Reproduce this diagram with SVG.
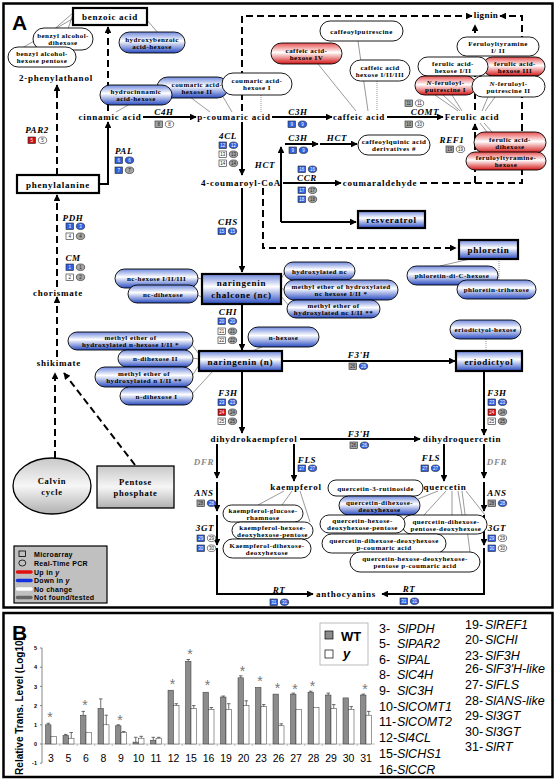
<svg xmlns="http://www.w3.org/2000/svg" width="556" height="781" viewBox="0 0 556 781">
<defs>
<linearGradient id="gb" x1="0" y1="0" x2="0" y2="1"><stop offset="0" stop-color="#6f88dc"/><stop offset="0.42" stop-color="#ffffff"/><stop offset="1" stop-color="#2a4cc2"/></linearGradient>
<linearGradient id="gr" x1="0" y1="0" x2="0" y2="1"><stop offset="0" stop-color="#e85050"/><stop offset="0.45" stop-color="#ffffff"/><stop offset="1" stop-color="#d41515"/></linearGradient>
<linearGradient id="gg" x1="0" y1="0" x2="0" y2="1"><stop offset="0" stop-color="#c8c8c8"/><stop offset="0.5" stop-color="#f6f6f6"/><stop offset="1" stop-color="#b0b0b0"/></linearGradient>
<marker id="ah" viewBox="0 0 10 10" refX="9" refY="5" markerWidth="3.6" markerHeight="3.4" orient="auto"><path d="M0,0L10,5L0,10z" fill="#000"/></marker>
</defs>
<style>
text{font-family:"Liberation Serif","Times New Roman",serif;font-weight:bold}
.m{font-size:9px;letter-spacing:0.75px;text-anchor:middle}
.p{font-size:7px;letter-spacing:0.45px;text-anchor:middle}
.e{font-size:9px;font-style:italic;letter-spacing:0.6px;text-anchor:middle}
.dfr{fill:#8a8a8a}
.s{fill:none;stroke:#000;stroke-width:2;marker-end:url(#ah)}
.d{fill:none;stroke:#000;stroke-width:2;stroke-dasharray:7 4;marker-end:url(#ah)}
.t{fill:none;stroke:#555;stroke-width:0.6}
.td{fill:none;stroke:#555;stroke-width:0.6;stroke-dasharray:1 1}
.pw{fill:#fff;stroke:#000;stroke-width:0.9}
.pb{fill:url(#gb);stroke:#000;stroke-width:0.9}
.pr{fill:url(#gr);stroke:#000;stroke-width:0.9}
.bw{fill:#fff;stroke:#000;stroke-width:2.2}
.bb{fill:url(#gb);stroke:#000;stroke-width:2.2}
.gm rect,.gm ellipse{stroke:#222;stroke-width:0.6}
.B{fill:#2f60e0}.R{fill:#d01010}.G{fill:#a5a5a5}.W{fill:#fff}
.n{font-family:"Liberation Sans",Arial,sans-serif;font-weight:normal;font-size:4.5px;text-anchor:middle;fill:#222}
.nw{fill:#fff}
.sa{font-family:"Liberation Sans",Arial,sans-serif}
.lg{font-family:"Liberation Sans",Arial,sans-serif;font-size:7px;letter-spacing:0.3px}
.gl{font-family:"Liberation Sans",Arial,sans-serif;font-weight:normal;font-size:12.5px}
.gl tspan{font-style:italic}
.cat{font-family:"Liberation Sans",Arial,sans-serif;font-weight:normal;font-size:10.5px;text-anchor:middle}
.wt{fill:#8c8c8c;stroke:#333;stroke-width:0.5}
.yb{fill:#fff;stroke:#333;stroke-width:0.5}
.eb{stroke:#333;stroke-width:0.7;fill:none}
.st{font-family:"Liberation Sans",Arial,sans-serif;font-weight:normal;font-size:14px;fill:#777;text-anchor:middle}
.yt{font-family:"Liberation Sans",Arial,sans-serif;font-size:5.5px;text-anchor:end}
</style>

<!-- panel frames -->
<rect x="3.5" y="3.5" width="549" height="604" fill="none" stroke="#000" stroke-width="2.5"/>
<rect x="3.5" y="613" width="549" height="164" fill="none" stroke="#000" stroke-width="2.5"/>
<text class="sa" x="12" y="30" font-size="21">A</text>
<text class="sa" x="12" y="640" font-size="21">B</text>

<g id="connectors">
<path class="t" d="M73,13L52,31M73,14L68,29M74,18L22,48M147,20L158,33M130,104L116,112M190,97L210,112M222,95L232,112M318,64L356,111M358,41L368,111M435,95L458,111M443,95L460,111M452,95L462,111M488,97L482,111M495,97L485,111M487,132L480,123M492,132L484,123M470,259L440,266M202,279L197,278M202,297L197,295M281,279L286,270M281,288L285,290M281,296L289,306M262,347L252,351M199,354L190,342M199,359L192,358M199,365L192,376M213,371L190,396M284,491L258,505M292,491L282,505M300,491L310,522M438,491L418,499M446,491L424,515M452,491L452,515M458,491L462,515M462,491L470,552M466,491L485,515"/>
<path class="td" d="M261,95V112M377,81V111M499,259V280M486,339V351"/>
<path class="s" d="M99,184H108V122"/>
<path class="s" d="M143,117H196"/>
<path class="s" d="M272,117H332"/>
<path class="s" d="M387,117H443"/>
<path class="s" d="M242,122V175"/>
<path class="s" d="M283,183H341"/>
<path class="s" d="M281,222V147"/>
<path class="s" d="M281,222H356"/>
<path class="s" d="M285,144H318"/>
<path class="s" d="M320,144H357"/>
<path class="s" d="M242,188V272"/>
<path class="s" d="M242,304V350"/>
<path class="s" d="M282,361H455"/>
<path class="s" d="M242,371V433"/>
<path class="s" d="M484,371V435"/>
<path class="s" d="M300,439H420"/>
<path class="s" d="M294,444V481"/>
<path class="s" d="M444,444V481"/>
<path class="s" d="M217,444V478"/>
<path class="s" d="M217,482V511"/>
<path class="s" d="M217,515V545"/>
<path class="s" d="M217,548V594H313"/>
<path class="s" d="M484,444V478"/>
<path class="s" d="M484,482V511"/>
<path class="s" d="M484,515V545"/>
<path class="s" d="M484,548V594H382"/>
<path class="d" d="M57,175V85"/>
<path class="d" d="M108,111V27"/>
<path class="d" d="M57,287V195"/>
<path class="d" d="M57,357V297"/>
<path class="d" d="M55,458V373"/>
<path class="d" d="M135,465L64,373"/>
<path class="d" d="M242,111V16H472"/>
<path class="d" d="M420,183H522V16H500"/>
<path class="d" d="M475,183V124"/>
<path class="d" d="M475,110V25"/>
<path class="d" d="M263,188V248H456"/>
</g>

<g id="metabolites">
<text class="m" x="56" y="81">2-phenylathanol</text>
<text class="m" x="110" y="120">cinnamic acid</text>
<text class="m" x="234" y="120">p-coumaric acid</text>
<text class="m" x="359" y="120">caffeic acid</text>
<text class="m" x="472" y="120">Ferulic acid</text>
<text class="m" x="486" y="18" style="letter-spacing:0.4px">lignin</text>
<text class="m" x="241" y="186">4-coumaroyl-CoA</text>
<text class="m" x="380" y="186">coumaraldehyde</text>
<text class="m" x="58" y="296">chorismate</text>
<text class="m" x="59" y="366">shikimate</text>
<text class="m" x="254" y="442">dihydrokaempferol</text>
<text class="m" x="462" y="442">dihydroquercetin</text>
<text class="m" x="296" y="490">kaempferol</text>
<text class="m" x="445" y="490">quercetin</text>
<text class="m" x="346" y="597">anthocyanins</text>
</g>

<g id="benzoic-acid"><rect class="bw" x="73" y="8" width="74" height="17"/><text class="m" x="110" y="20">benzoic acid</text></g>
<g id="phenylalanine"><rect class="bw" x="17" y="175" width="82" height="18"/><text class="m" x="58" y="187.5">phenylalanine</text></g>
<g id="resveratrol"><rect class="bb" x="358" y="211" width="67" height="17"/><text class="m" x="391.5" y="223">resveratrol</text></g>
<g id="phloretin"><rect class="bb" x="459" y="240" width="59" height="19"/><text class="m" x="488.5" y="252.5">phloretin</text></g>
<g id="naringenin-chalcone"><rect class="bb" x="202" y="274" width="79" height="30"/><text class="m" x="241.5" y="286">naringenin</text><text class="m" x="241.5" y="298">chalcone (nc)</text></g>
<g id="naringenin"><rect class="bb" x="199" y="351" width="83" height="20"/><text class="m" x="240.5" y="364.5">naringenin (n)</text></g>
<g id="eriodictyol"><rect class="bb" x="456" y="351" width="66" height="20"/><text class="m" x="489" y="364.5">eriodictyol</text></g>
<g id="calvin-cycle"><ellipse cx="52" cy="486" rx="39" ry="28" fill="url(#gg)" stroke="#000" stroke-width="1.3"/><text class="m" x="52" y="484" style="font-size:8.5px">Calvin</text><text class="m" x="52" y="495" style="font-size:8.5px">cycle</text></g>
<g id="pentose-phosphate"><rect x="97" y="466" width="77" height="42" fill="url(#gg)" stroke="#000" stroke-width="1.3"/><text class="m" x="135.5" y="485" style="font-size:8.5px">Pentose</text><text class="m" x="135.5" y="496" style="font-size:8.5px">phosphate</text></g>

<g id="pill-benzyl-dihexose"><rect class="pw" x="33" y="28" width="60" height="22" rx="11"/><text class="p" x="63" y="38">benzyl alcohol-</text><text class="p" x="63" y="45">dihexose</text></g>
<g id="pill-benzyl-hexose-pentose"><rect class="pw" x="8" y="47" width="68" height="20" rx="10"/><text class="p" x="42" y="56">benzyl alcohol-</text><text class="p" x="42" y="63">hexose pentose</text></g>
<g id="pill-hydroxybenzoic"><rect class="pb" x="119" y="32" width="66" height="21" rx="10.5"/><text class="p" x="152" y="41.5">hydroxybenzoic</text><text class="p" x="152" y="48.5">acid-hexose</text></g>
<g id="pill-coumaric-II"><rect class="pb" x="157" y="77" width="71" height="21" rx="10.5"/><text class="p" x="197" y="86.5">coumaric acid-</text><text class="p" x="197" y="93.5">hexose II</text></g>
<g id="pill-hydrocinnamic"><rect class="pb" x="100" y="85" width="72" height="20" rx="10"/><text class="p" x="136" y="94">hydrocinnamic</text><text class="p" x="136" y="101">acid-hexose</text></g>
<g id="pill-coumaric-I"><rect class="pw" x="222" y="73" width="70" height="22" rx="11"/><text class="p" x="257" y="83">coumaric acid-</text><text class="p" x="257" y="90">hexose I</text></g>
<g id="pill-caffeic-IV"><rect class="pr" x="271" y="43" width="71" height="21" rx="10.5"/><text class="p" x="306.5" y="52.5">caffeic acid-</text><text class="p" x="306.5" y="59.5">hexose IV</text></g>
<g id="pill-caffeoylputrescine"><rect class="pw" x="320" y="21" width="83" height="20" rx="10"/><text class="p" x="361.5" y="33.5">caffeoylputrescine</text></g>
<g id="pill-caffeic-I-III"><rect class="pw" x="350" y="60" width="60" height="21" rx="10.5"/><text class="p" x="380" y="69.5">caffeic acid</text><text class="p" x="380" y="76.5">hexose I/II/III</text></g>
<g id="pill-caffeoylquinic"><rect class="pw" x="358" y="135" width="72" height="20" rx="10"/><text class="p" x="394" y="144">caffeoylquinic acid</text><text class="p" x="394" y="151">derivatives #</text></g>
<g id="pill-feruloyltyramine"><rect class="pw" x="457" y="37" width="82" height="19" rx="9.5"/><text class="p" x="498" y="45.5">Feruloyltyramine</text><text class="p" x="498" y="52.5">I/ II</text></g>
<g id="pill-ferulic-III"><rect class="pr" x="483" y="57" width="62" height="19" rx="9.5"/><text class="p" x="515" y="65.5">ferulic acid-</text><text class="p" x="515" y="72.5">hexose III</text></g>
<g id="pill-ferulic-I-II"><rect class="pw" x="418" y="57" width="70" height="19" rx="9.5"/><text class="p" x="453" y="65.5">ferulic acid-</text><text class="p" x="453" y="72.5">hexose I/II</text></g>
<g id="pill-feruloylputrescine-I"><rect class="pr" x="415" y="76" width="61" height="19" rx="9.5"/><text class="p" x="445.5" y="84.5"><tspan font-style="italic">N</tspan>-feruloyl-</text><text class="p" x="445.5" y="91.5">putrescine I</text></g>
<g id="pill-feruloylputrescine-II"><rect class="pw" x="472" y="76" width="73" height="21" rx="10.5"/><text class="p" x="508.5" y="85.5"><tspan font-style="italic">N</tspan>-feruloyl-</text><text class="p" x="508.5" y="92.5">putrescine II</text></g>
<g id="pill-ferulic-dihexose"><rect class="pr" x="474" y="132" width="72" height="21" rx="10.5"/><text class="p" x="510" y="141.5">ferulic acid-</text><text class="p" x="510" y="148.5">dihexose</text></g>
<g id="pill-feruloyltyramine-hexose"><rect class="pr" x="466" y="152" width="80" height="18" rx="9"/><text class="p" x="506" y="160">feruloyltyramine-</text><text class="p" x="506" y="167">hexose</text></g>
<g id="pill-nc-hexose"><rect class="pb" x="115" y="269" width="83" height="19" rx="9.5"/><text class="p" x="156.5" y="281">nc-hexose I/II/III</text></g>
<g id="pill-nc-dihexose"><rect class="pb" x="128" y="285" width="70" height="18" rx="9"/><text class="p" x="163" y="296.5">nc-dihexose</text></g>
<g id="pill-hydroxylated-nc"><rect class="pb" x="284" y="262" width="71" height="18" rx="9"/><text class="p" x="319.5" y="273.5">hydroxylated nc</text></g>
<g id="pill-methyl-nc-hexose"><rect class="pb" x="284" y="280" width="114" height="20" rx="10"/><text class="p" x="341" y="289">methyl ether of hydroxylated</text><text class="p" x="341" y="296">nc hexose I/II *</text></g>
<g id="pill-methyl-nc"><rect class="pb" x="287" y="300" width="93" height="18" rx="9"/><text class="p" x="333.5" y="308">methyl ether of</text><text class="p" x="333.5" y="315">hydroxylated nc I/II **</text></g>
<g id="pill-phloretin-di-C"><rect class="pb" x="407" y="266" width="91" height="19" rx="9.5"/><text class="p" x="452" y="278">phloretin-di-C-hexose</text></g>
<g id="pill-phloretin-tri"><rect class="pb" x="457" y="280" width="79" height="19" rx="9.5"/><text class="p" x="496.5" y="292">phloretin-trihexose</text></g>
<g id="pill-methyl-n-hexose"><rect class="pb" x="68" y="332" width="125" height="18" rx="9"/><text class="p" x="130.5" y="340">methyl ether of</text><text class="p" x="130.5" y="347">hydroxylated n-hexose I/II *</text></g>
<g id="pill-n-dihexose-II"><rect class="pb" x="118" y="350" width="75" height="17" rx="8.5"/><text class="p" x="155.5" y="361">n-dihexose II</text></g>
<g id="pill-methyl-n"><rect class="pb" x="95" y="367" width="98" height="20" rx="10"/><text class="p" x="144" y="376">methyl ether of</text><text class="p" x="144" y="383">hydroxylated n I/II **</text></g>
<g id="pill-n-dihexose-I"><rect class="pb" x="120" y="387" width="73" height="18" rx="9"/><text class="p" x="156.5" y="398.5">n-dihexose I</text></g>
<g id="pill-n-hexose"><rect class="pb" x="248" y="327" width="71" height="20" rx="10"/><text class="p" x="283.5" y="339.5">n-hexose</text></g>
<g id="pill-eriodictyol-hexose"><rect class="pb" x="450" y="320" width="71" height="19" rx="9.5"/><text class="p" x="485.5" y="332">eriodictyol-hexose</text></g>
<g id="pill-k-glc-rha"><rect class="pw" x="223" y="505" width="80" height="17" rx="8.5"/><text class="p" x="263" y="512.5">kaempferol-glucose-</text><text class="p" x="263" y="519.5">rhamnose</text></g>
<g id="pill-k-hex-dhex-pen"><rect class="pw" x="232" y="522" width="81" height="17" rx="8.5"/><text class="p" x="272.5" y="529.5">kaempferol-hexose-</text><text class="p" x="272.5" y="536.5">deoxyhexose-pentose</text></g>
<g id="pill-k-dihex-dhex"><rect class="pw" x="223" y="539" width="88" height="19" rx="9.5"/><text class="p" x="267" y="547.5">Kaempferol-dihexose-</text><text class="p" x="267" y="554.5">deoxyhexose</text></g>
<g id="pill-q-rutinoside"><rect class="pw" x="328" y="480" width="95" height="16" rx="8"/><text class="p" x="375.5" y="490.5">quercetin-3-rutinoside</text></g>
<g id="pill-q-dihex-dhex"><rect class="pb" x="339" y="496" width="81" height="19" rx="9.5"/><text class="p" x="379.5" y="504.5">quercetin-dihexose-</text><text class="p" x="379.5" y="511.5">deoxyhexose</text></g>
<g id="pill-q-dihex-pen-dhex"><rect class="pw" x="402" y="515" width="85" height="19" rx="9.5"/><text class="p" x="446" y="523.5">quercetin-dihexose-</text><text class="p" x="446" y="530.5">pentose-deoxyhexose</text></g>
<g id="pill-q-hex-dhex-pen"><rect class="pw" x="320" y="515" width="85" height="18" rx="9"/><text class="p" x="362.5" y="523">quercetin-hexose-</text><text class="p" x="362.5" y="530">deoxyhexose-pentose</text></g>
<g id="pill-q-dihex-dhex-pc"><rect class="pw" x="322" y="534" width="124" height="19" rx="9.5"/><text class="p" x="384" y="542.5">quercetin-dihexose-deoxyhexose</text><text class="p" x="384" y="549.5">p-coumaric acid</text></g>
<g id="pill-q-hex-dhex-pen-pc"><rect class="pw" x="350" y="552" width="130" height="20" rx="10"/><text class="p" x="415" y="561">quercetin-hexose-deoxyhexose-</text><text class="p" x="415" y="568">pentose p-coumaric acid</text></g>

<g id="enzymes">
<text class="e" x="37" y="133">PAR2</text>
<text class="e" x="164" y="115">C4H</text>
<text class="e" x="124" y="154">PAL</text>
<text class="e" x="73" y="221">PDH</text>
<text class="e" x="73" y="261">CM</text>
<text class="e" x="298" y="115">C3H</text>
<text class="e" x="228" y="139">4CL</text>
<text class="e" x="298" y="141">C3H</text>
<text class="e" x="337" y="141">HCT</text>
<text class="e" x="265" y="168">HCT</text>
<text class="e" x="307" y="181">CCR</text>
<text class="e" x="425" y="115">COMT</text>
<text class="e" x="452" y="143">REF1</text>
<text class="e" x="228" y="225">CHS</text>
<text class="e" x="228" y="315">CHI</text>
<text class="e" x="359" y="358">F3'H</text>
<text class="e" x="228" y="396">F3H</text>
<text class="e" x="497" y="396">F3H</text>
<text class="e" x="359" y="437">F3'H</text>
<text class="e dfr" x="204" y="465">DFR</text>
<text class="e" x="307" y="463">FLS</text>
<text class="e" x="204" y="496">ANS</text>
<text class="e" x="205" y="531">3GT</text>
<text class="e dfr" x="497" y="465">DFR</text>
<text class="e" x="431" y="461">FLS</text>
<text class="e" x="497" y="496">ANS</text>
<text class="e" x="497" y="531">3GT</text>
<text class="e" x="279" y="593">RT</text>
<text class="e" x="409" y="592">RT</text>
</g>

<g id="gene-markers" class="gm">
<rect class="R" x="28" y="137" width="7.5" height="6.5"/><text class="n nw" x="31.75" y="141.8">5</text><ellipse class="W" cx="42.5" cy="140.25" rx="4.2" ry="3.3"/><text class="n" x="42.5" y="141.8">5</text>
<rect class="G" x="155" y="121" width="7.5" height="6.5"/><text class="n" x="158.75" y="125.8">8</text><ellipse class="W" cx="169.5" cy="124.25" rx="4.2" ry="3.3"/><text class="n" x="169.5" y="125.8">8</text>
<rect class="B" x="115" y="157" width="7.5" height="6.5"/><text class="n nw" x="118.75" y="161.8">6</text><ellipse class="B" cx="129.5" cy="160.25" rx="4.2" ry="3.3"/><text class="n nw" x="129.5" y="161.8">6</text>
<rect class="B" x="115" y="167" width="7.5" height="6.5"/><text class="n nw" x="118.75" y="171.8">7</text><ellipse class="G" cx="129.5" cy="170.25" rx="4.2" ry="3.3"/><text class="n" x="129.5" y="171.8">7</text>
<rect class="B" x="66" y="223" width="7.5" height="6.5"/><text class="n nw" x="69.75" y="227.8">3</text><ellipse class="B" cx="80.5" cy="226.25" rx="4.2" ry="3.3"/><text class="n nw" x="80.5" y="227.8">3</text>
<rect class="W" x="66" y="233" width="7.5" height="6.5"/><text class="n" x="69.75" y="237.8">4</text><ellipse class="G" cx="80.5" cy="236.25" rx="4.2" ry="3.3"/><text class="n" x="80.5" y="237.8">4</text>
<rect class="B" x="66" y="264" width="7.5" height="6.5"/><text class="n nw" x="69.75" y="268.8">1</text><ellipse class="G" cx="80.5" cy="267.25" rx="4.2" ry="3.3"/><text class="n" x="80.5" y="268.8">1</text>
<rect class="W" x="66" y="274" width="7.5" height="6.5"/><text class="n" x="69.75" y="278.8">2</text><ellipse class="G" cx="80.5" cy="277.25" rx="4.2" ry="3.3"/><text class="n" x="80.5" y="278.8">2</text>
<rect class="B" x="288" y="121" width="7.5" height="6.5"/><text class="n nw" x="291.75" y="125.8">9</text><ellipse class="B" cx="302.5" cy="124.25" rx="4.2" ry="3.3"/><text class="n nw" x="302.5" y="125.8">9</text>
<rect class="B" x="219" y="142" width="7.5" height="6.5"/><text class="n nw" x="222.75" y="146.8">12</text><ellipse class="B" cx="233.5" cy="145.25" rx="4.2" ry="3.3"/><text class="n nw" x="233.5" y="146.8">12</text>
<rect class="W" x="219" y="151" width="7.5" height="6.5"/><text class="n" x="222.75" y="155.8">13</text><ellipse class="G" cx="233.5" cy="154.25" rx="4.2" ry="3.3"/><text class="n" x="233.5" y="155.8">13</text>
<rect class="W" x="219" y="160" width="7.5" height="6.5"/><text class="n" x="222.75" y="164.8">14</text><ellipse class="G" cx="233.5" cy="163.25" rx="4.2" ry="3.3"/><text class="n" x="233.5" y="164.8">14</text>
<rect class="B" x="289" y="147" width="7.5" height="6.5"/><text class="n nw" x="292.75" y="151.8">9</text><ellipse class="B" cx="303.5" cy="150.25" rx="4.2" ry="3.3"/><text class="n nw" x="303.5" y="151.8">9</text>
<rect class="B" x="298" y="166" width="7.5" height="6.5"/><text class="n nw" x="301.75" y="170.8">16</text><ellipse class="B" cx="312.5" cy="169.25" rx="4.2" ry="3.3"/><text class="n nw" x="312.5" y="170.8">16</text>
<rect class="B" x="298" y="187" width="7.5" height="6.5"/><text class="n nw" x="301.75" y="191.8">17</text><ellipse class="G" cx="312.5" cy="190.25" rx="4.2" ry="3.3"/><text class="n" x="312.5" y="191.8">17</text>
<rect class="B" x="298" y="196" width="7.5" height="6.5"/><text class="n nw" x="301.75" y="200.8">18</text><ellipse class="G" cx="312.5" cy="199.25" rx="4.2" ry="3.3"/><text class="n" x="312.5" y="200.8">18</text>
<rect class="G" x="405" y="100" width="7.5" height="6.5"/><text class="n" x="408.75" y="104.8">11</text><ellipse class="W" cx="419.5" cy="103.25" rx="4.2" ry="3.3"/><text class="n" x="419.5" y="104.8">11</text>
<rect class="G" x="405" y="121" width="7.5" height="6.5"/><text class="n" x="408.75" y="125.8">10</text><ellipse class="W" cx="419.5" cy="124.25" rx="4.2" ry="3.3"/><text class="n" x="419.5" y="125.8">10</text>
<rect class="G" x="446" y="146" width="7.5" height="6.5"/><text class="n" x="449.75" y="150.8">19</text><ellipse class="W" cx="460.5" cy="149.25" rx="4.2" ry="3.3"/><text class="n" x="460.5" y="150.8">19</text>
<rect class="B" x="218" y="228" width="7.5" height="6.5"/><text class="n nw" x="221.75" y="232.8">15</text><ellipse class="B" cx="232.5" cy="231.25" rx="4.2" ry="3.3"/><text class="n nw" x="232.5" y="232.8">15</text>
<rect class="B" x="218" y="318" width="7.5" height="6.5"/><text class="n nw" x="221.75" y="322.8">20</text><ellipse class="B" cx="232.5" cy="321.25" rx="4.2" ry="3.3"/><text class="n nw" x="232.5" y="322.8">20</text>
<rect class="W" x="218" y="328" width="7.5" height="6.5"/><text class="n" x="221.75" y="332.8">21</text><ellipse class="G" cx="232.5" cy="331.25" rx="4.2" ry="3.3"/><text class="n" x="232.5" y="332.8">21</text>
<rect class="W" x="218" y="337" width="7.5" height="6.5"/><text class="n" x="221.75" y="341.8">22</text><ellipse class="G" cx="232.5" cy="340.25" rx="4.2" ry="3.3"/><text class="n" x="232.5" y="341.8">22</text>
<rect class="G" x="349" y="363" width="7.5" height="6.5"/><text class="n" x="352.75" y="367.8">26</text><ellipse class="B" cx="363.5" cy="366.25" rx="4.2" ry="3.3"/><text class="n nw" x="363.5" y="367.8">26</text>
<rect class="B" x="218" y="399" width="7.5" height="6.5"/><text class="n nw" x="221.75" y="403.8">23</text><ellipse class="B" cx="232.5" cy="402.25" rx="4.2" ry="3.3"/><text class="n nw" x="232.5" y="403.8">23</text>
<rect class="R" x="218" y="409" width="7.5" height="6.5"/><text class="n nw" x="221.75" y="413.8">24</text><ellipse class="G" cx="232.5" cy="412.25" rx="4.2" ry="3.3"/><text class="n" x="232.5" y="413.8">24</text>
<rect class="W" x="218" y="418" width="7.5" height="6.5"/><text class="n" x="221.75" y="422.8">25</text><ellipse class="G" cx="232.5" cy="421.25" rx="4.2" ry="3.3"/><text class="n" x="232.5" y="422.8">25</text>
<rect class="B" x="488" y="399" width="7.5" height="6.5"/><text class="n nw" x="491.75" y="403.8">23</text><ellipse class="B" cx="502.5" cy="402.25" rx="4.2" ry="3.3"/><text class="n nw" x="502.5" y="403.8">23</text>
<rect class="R" x="488" y="409" width="7.5" height="6.5"/><text class="n nw" x="491.75" y="413.8">24</text><ellipse class="G" cx="502.5" cy="412.25" rx="4.2" ry="3.3"/><text class="n" x="502.5" y="413.8">24</text>
<rect class="W" x="488" y="418" width="7.5" height="6.5"/><text class="n" x="491.75" y="422.8">25</text><ellipse class="G" cx="502.5" cy="421.25" rx="4.2" ry="3.3"/><text class="n" x="502.5" y="422.8">25</text>
<rect class="G" x="350" y="442" width="7.5" height="6.5"/><text class="n" x="353.75" y="446.8">26</text><ellipse class="B" cx="364.5" cy="445.25" rx="4.2" ry="3.3"/><text class="n nw" x="364.5" y="446.8">26</text>
<rect class="B" x="298" y="465" width="7.5" height="6.5"/><text class="n nw" x="301.75" y="469.8">27</text><ellipse class="B" cx="312.5" cy="468.25" rx="4.2" ry="3.3"/><text class="n nw" x="312.5" y="469.8">27</text>
<rect class="B" x="421" y="465" width="7.5" height="6.5"/><text class="n nw" x="424.75" y="469.8">27</text><ellipse class="B" cx="435.5" cy="468.25" rx="4.2" ry="3.3"/><text class="n nw" x="435.5" y="469.8">27</text>
<rect class="G" x="197" y="500" width="7.5" height="6.5"/><text class="n" x="200.75" y="504.8">28</text><ellipse class="B" cx="211.5" cy="503.25" rx="4.2" ry="3.3"/><text class="n nw" x="211.5" y="504.8">28</text>
<rect class="G" x="488" y="500" width="7.5" height="6.5"/><text class="n" x="491.75" y="504.8">28</text><ellipse class="B" cx="502.5" cy="503.25" rx="4.2" ry="3.3"/><text class="n nw" x="502.5" y="504.8">28</text>
<rect class="B" x="197" y="535" width="7.5" height="6.5"/><text class="n nw" x="200.75" y="539.8">29</text><ellipse class="W" cx="211.5" cy="538.25" rx="4.2" ry="3.3"/><text class="n" x="211.5" y="539.8">29</text>
<rect class="B" x="197" y="545" width="7.5" height="6.5"/><text class="n nw" x="200.75" y="549.8">30</text><ellipse class="W" cx="211.5" cy="548.25" rx="4.2" ry="3.3"/><text class="n" x="211.5" y="549.8">30</text>
<rect class="B" x="488" y="535" width="7.5" height="6.5"/><text class="n nw" x="491.75" y="539.8">29</text><ellipse class="W" cx="502.5" cy="538.25" rx="4.2" ry="3.3"/><text class="n" x="502.5" y="539.8">29</text>
<rect class="B" x="488" y="545" width="7.5" height="6.5"/><text class="n nw" x="491.75" y="549.8">30</text><ellipse class="W" cx="502.5" cy="548.25" rx="4.2" ry="3.3"/><text class="n" x="502.5" y="549.8">30</text>
<rect class="B" x="270" y="599" width="7.5" height="6.5"/><text class="n nw" x="273.75" y="603.8">31</text><ellipse class="B" cx="284.5" cy="602.25" rx="4.2" ry="3.3"/><text class="n nw" x="284.5" y="603.8">31</text>
<rect class="B" x="400" y="598" width="7.5" height="6.5"/><text class="n nw" x="403.75" y="602.8">31</text><ellipse class="B" cx="414.5" cy="601.25" rx="4.2" ry="3.3"/><text class="n nw" x="414.5" y="602.8">31</text>
</g>

<g id="legend-a">
<rect x="14" y="546" width="93" height="57" fill="#c0c0c0" stroke="#000" stroke-width="1.2"/>
<rect x="19" y="551" width="6.5" height="5.5" fill="none" stroke="#000" stroke-width="0.8"/>
<ellipse cx="22.3" cy="563" rx="3.5" ry="3" fill="none" stroke="#000" stroke-width="0.8"/>
<line x1="17.5" y1="572" x2="31" y2="572" stroke="#e01010" stroke-width="3.5" stroke-linecap="round"/>
<line x1="17.5" y1="580.5" x2="31" y2="580.5" stroke="#1530e0" stroke-width="3.5" stroke-linecap="round"/>
<line x1="17.5" y1="589" x2="31" y2="589" stroke="#fff" stroke-width="3.5" stroke-linecap="round"/>
<line x1="17.5" y1="597.5" x2="31" y2="597.5" stroke="#666" stroke-width="3.5" stroke-linecap="round"/>
<text class="lg" x="34" y="556.5">Microarray</text>
<text class="lg" x="34" y="565.5">Real-Time PCR</text>
<text class="lg" x="34" y="574.5">Up in <tspan font-style="italic">y</tspan></text>
<text class="lg" x="34" y="583">Down in <tspan font-style="italic">y</tspan></text>
<text class="lg" x="34" y="591.5">No change</text>
<text class="lg" x="34" y="600">Not found/tested</text>
</g>

<g id="chart">
<text class="sa" transform="translate(23,706) rotate(-90)" text-anchor="middle" font-size="10" font-weight="normal">Relative Trans. Level (Log10)</text>
<path d="M42,648V763M40,648H42M40,667.2H42M40,686.4H42M40,705.6H42M40,724.8H42M40,744H42M40,763.2H42" stroke="#555" stroke-width="0.7" fill="none"/>
<path d="M42,744H375M59.75,744v2M77.25,744v2M94.75,744v2M112.25,744v2M129.75,744v2M147.25,744v2M164.75,744v2M182.25,744v2M199.75,744v2M217.25,744v2M234.75,744v2M252.25,744v2M269.75,744v2M287.25,744v2M304.75,744v2M322.25,744v2M339.75,744v2M357.25,744v2" stroke="#999" stroke-width="0.6" fill="none"/>
<text class="yt" x="37" y="650">5</text><text class="yt" x="37" y="669">4</text><text class="yt" x="37" y="688.5">3</text><text class="yt" x="37" y="707.5">2</text><text class="yt" x="37" y="727">1</text><text class="yt" x="37" y="746">0</text><text class="yt" x="37" y="765">-1</text>
<g id="bars">
<rect class="wt" x="45.5" y="724.8" width="5.5" height="19.2"/><rect class="yb" x="51" y="736.3" width="5.5" height="7.7"/>
<rect class="wt" x="63" y="735.4" width="5.5" height="8.6"/><rect class="yb" x="68.5" y="738.2" width="5.5" height="5.8"/>
<rect class="wt" x="80.5" y="715.2" width="5.5" height="28.8"/><rect class="yb" x="86" y="732.5" width="5.5" height="11.5"/>
<rect class="wt" x="98" y="708.5" width="5.5" height="35.5"/><rect class="yb" x="103.5" y="724.8" width="5.5" height="19.2"/>
<rect class="wt" x="115.5" y="725.8" width="5.5" height="18.2"/><rect class="yb" x="121" y="732.5" width="5.5" height="11.5"/>
<rect class="wt" x="133" y="742.1" width="5.5" height="1.9"/><rect class="yb" x="138.5" y="738.2" width="5.5" height="5.8"/>
<rect class="wt" x="150.5" y="740.2" width="5.5" height="3.8"/><rect class="yb" x="156" y="738.2" width="5.5" height="5.8"/>
<rect class="wt" x="168" y="690.2" width="5.5" height="53.8"/><rect class="yb" x="173.5" y="705.6" width="5.5" height="38.4"/>
<rect class="wt" x="185.5" y="661.4" width="5.5" height="82.6"/><rect class="yb" x="191" y="708.5" width="5.5" height="35.5"/>
<rect class="wt" x="203" y="692.2" width="5.5" height="51.8"/><rect class="yb" x="208.5" y="709.4" width="5.5" height="34.6"/>
<rect class="wt" x="220.5" y="697" width="5.5" height="47"/><rect class="yb" x="226" y="709.4" width="5.5" height="34.6"/>
<rect class="wt" x="238" y="677.8" width="5.5" height="66.2"/><rect class="yb" x="243.5" y="705.6" width="5.5" height="38.4"/>
<rect class="wt" x="255.5" y="687.4" width="5.5" height="56.6"/><rect class="yb" x="261" y="706.6" width="5.5" height="37.4"/>
<rect class="wt" x="273" y="694.1" width="5.5" height="49.9"/><rect class="yb" x="278.5" y="725.8" width="5.5" height="18.2"/>
<rect class="wt" x="290.5" y="694.1" width="5.5" height="49.9"/><rect class="yb" x="296" y="709.4" width="5.5" height="34.6"/>
<rect class="wt" x="308" y="692.2" width="5.5" height="51.8"/><rect class="yb" x="313.5" y="707.5" width="5.5" height="36.5"/>
<rect class="wt" x="325.5" y="695" width="5.5" height="49"/><rect class="yb" x="331" y="708.5" width="5.5" height="35.5"/>
<rect class="wt" x="343" y="697.9" width="5.5" height="46.1"/><rect class="yb" x="348.5" y="709.4" width="5.5" height="34.6"/>
<rect class="wt" x="360.5" y="695" width="5.5" height="49"/><rect class="yb" x="366" y="715.2" width="5.5" height="28.8"/>
</g>
<path class="eb" d="M48.25,724.8V723.3M46.5,723.3h3.5M65.75,735.4V734.4M64,734.4h3.5M71.25,738.2V732.5M69.5,732.5h3.5M83.25,715.2V711.4M81.5,711.4h3.5M100.75,708.5V698.9M99,698.9h3.5M106.25,724.8V715.2M104.5,715.2h3.5M118.25,725.8V724.8M116.5,724.8h3.5M123.75,732.5V731.5M122,731.5h3.5M135.75,742.1V737.3M134,737.3h3.5M141.25,738.2V736.3M139.5,736.3h3.5M153.25,740.2V737.3M151.5,737.3h3.5M158.75,738.2V737.3M157,737.3h3.5M176.25,705.6V703.7M174.5,703.7h3.5M188.25,661.4V659.5M186.5,659.5h3.5M193.75,708.5V705.6M192,705.6h3.5M211.25,709.4V707.5M209.5,707.5h3.5M223.25,697V696M221.5,696h3.5M228.75,709.4V703.7M227,703.7h3.5M240.75,677.8V675.8M239,675.8h3.5M246.25,705.6V700.8M244.5,700.8h3.5M263.75,706.6V704.6M262,704.6h3.5M281.25,725.8V723.8M279.5,723.8h3.5M293.25,694.1V693.1M291.5,693.1h3.5M310.75,692.2V691.2M309,691.2h3.5M328.25,695V693.1M326.5,693.1h3.5M333.75,708.5V704.6M332,704.6h3.5M351.25,709.4V706.6M349.5,706.6h3.5M363.25,695V694.1M361.5,694.1h3.5M368.75,715.2V711.4M367,711.4h3.5"/>
<g id="stars">
<text class="st" x="50" y="722">*</text><text class="st" x="85" y="710">*</text><text class="st" x="120" y="725">*</text><text class="st" x="172.5" y="689">*</text><text class="st" x="190" y="659">*</text><text class="st" x="207.5" y="690">*</text><text class="st" x="242.5" y="676">*</text><text class="st" x="260" y="686">*</text><text class="st" x="277.5" y="693">*</text><text class="st" x="295" y="694">*</text><text class="st" x="312.5" y="691">*</text><text class="st" x="365" y="694">*</text>
</g>
<g id="categories">
<text class="cat" x="51" y="762">3</text><text class="cat" x="68.5" y="762">5</text><text class="cat" x="86" y="762">6</text><text class="cat" x="103.5" y="762">8</text><text class="cat" x="121" y="762">9</text><text class="cat" x="138.5" y="762">10</text><text class="cat" x="156" y="762">11</text><text class="cat" x="173.5" y="762">12</text><text class="cat" x="191" y="762">15</text><text class="cat" x="208.5" y="762">16</text><text class="cat" x="226" y="762">19</text><text class="cat" x="243.5" y="762">20</text><text class="cat" x="261" y="762">23</text><text class="cat" x="278.5" y="762">26</text><text class="cat" x="296" y="762">27</text><text class="cat" x="313.5" y="762">28</text><text class="cat" x="331" y="762">29</text><text class="cat" x="348.5" y="762">30</text><text class="cat" x="366" y="762">31</text>
</g>
</g>

<g id="legend-b">
<rect x="320" y="623" width="48" height="42" fill="#fff" stroke="#aaa" stroke-width="0.8"/>
<rect x="325" y="631" width="8" height="8" fill="#8c8c8c" stroke="#000" stroke-width="0.7"/>
<text class="sa" x="341" y="641" font-size="13" font-weight="normal">WT</text>
<rect x="325" y="650" width="8" height="8" fill="#fff" stroke="#000" stroke-width="0.7"/>
<text class="sa" x="343" y="658" font-size="13" font-weight="normal" font-style="italic">y</text>
</g>

<g id="gene-list">
<text class="gl" x="379" y="632.5">3-<tspan x="397">SlPDH</tspan></text>
<text class="gl" x="379" y="648">5-<tspan x="397">SlPAR2</tspan></text>
<text class="gl" x="379" y="663.5">6-<tspan x="397">SlPAL</tspan></text>
<text class="gl" x="379" y="679">8-<tspan x="397">SlC4H</tspan></text>
<text class="gl" x="379" y="694.5">9-<tspan x="397">SlC3H</tspan></text>
<text class="gl" x="379" y="710.5">10-<tspan x="397">SlCOMT1</tspan></text>
<text class="gl" x="379" y="726">11-<tspan x="397">SlCOMT2</tspan></text>
<text class="gl" x="379" y="742">12-<tspan x="397">Sl4CL</tspan></text>
<text class="gl" x="379" y="757.5">15-<tspan x="397">SlCHS1</tspan></text>
<text class="gl" x="379" y="773.5">16-<tspan x="397">SlCCR</tspan></text>
<text class="gl" x="465" y="628.5">19-<tspan x="485">SlREF1</tspan></text>
<text class="gl" x="465" y="644">20-<tspan x="485">SlCHI</tspan></text>
<text class="gl" x="465" y="659.5">23-<tspan x="485">SlF3H</tspan></text>
<text class="gl" x="465" y="673">26-<tspan x="485">SlF3'H-like</tspan></text>
<text class="gl" x="465" y="688.5">27-<tspan x="485">SlFLS</tspan></text>
<text class="gl" x="465" y="704.5">28-<tspan x="485">SlANS-like</tspan></text>
<text class="gl" x="465" y="720">29-<tspan x="485">Sl3GT</tspan></text>
<text class="gl" x="465" y="735.5">30-<tspan x="485">Sl3GT</tspan></text>
<text class="gl" x="465" y="751">31-<tspan x="485">SlRT</tspan></text>
</g>
</svg>
